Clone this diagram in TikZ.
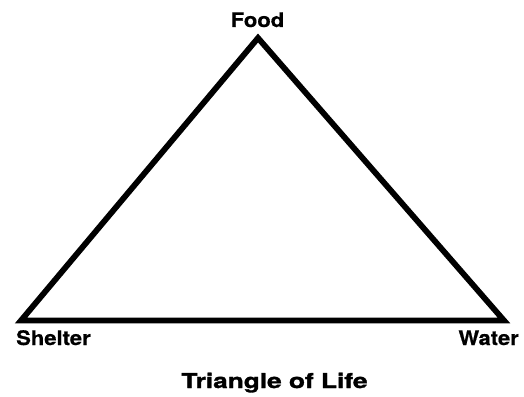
\documentclass[tikz,border=0pt]{standalone}
\usepackage{fontspec}
\setmainfont{TeX Gyre Heros}
\newfontfamily\lblfont[FakeStretch=1.1,FakeBold=0.6]{TeX Gyre Heros}
\newfontfamily\ttlfont[FakeStretch=1.28,FakeBold=1.6]{TeX Gyre Heros}
\usetikzlibrary{positioning}
\tikzset{
  triline/.style={line width=5.8pt,line join=miter,black},
  vlbl/.style={font=\lblfont\bfseries\fontsize{20}{22}\selectfont,inner sep=0pt},
  ttl/.style={font=\ttlfont\bfseries\fontsize{20.5}{22}\selectfont,inner sep=0pt},
}
\begin{document}
\begin{tikzpicture}[x=1pt,y=-1pt]
  \useasboundingbox (0,0) rectangle (524,396);
  \coordinate (top) at (258,38);
  \coordinate (left) at (21,320.5);
  \coordinate (right) at (504,320.5);
  \draw[triline] (left) -- (top) -- (right) -- cycle;
  \node[vlbl,anchor=base] (food) at (257.5,27) {Food};
  \node[vlbl,anchor=base west] (shelter) at (16,345) {Shelter};
  \node[vlbl,anchor=base east] (water) at (519,345) {Water};
  \node[ttl,anchor=base] (title) at (274.5,388) {Triangle of Life};
\end{tikzpicture}
\end{document}
